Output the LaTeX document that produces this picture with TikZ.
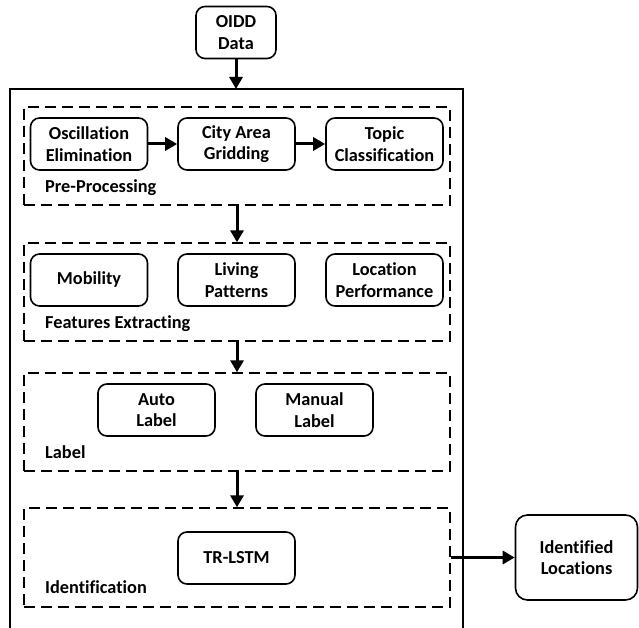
\documentclass[tikz,border=0pt]{standalone}
\usepackage{fontspec}
\setmainfont[Ligatures=NoCommon]{Carlito}
\usetikzlibrary{arrows.meta}

\begin{document}
\begin{tikzpicture}[x=1pt, y=-1pt,
    blk/.style={draw, rounded corners=9pt, line width=1.6pt, minimum width=117pt, minimum height=52pt, inner sep=0pt, align=center, font=\bfseries\fontsize{18.3}{21.7}\selectfont},
    grp/.style={draw, dash pattern=on 11pt off 6pt, line width=1.4pt, minimum width=426pt, minimum height=98pt, inner sep=0pt},
    flow/.style={-{Triangle[length=12pt, width=13pt]}, line width=3pt},
    lbl/.style={anchor=base west, inner sep=0pt, font=\bfseries\fontsize{18.3}{21.7}\selectfont}]
    \useasboundingbox (0,0) rectangle (639,628);

    \node[blk, minimum width=80pt] (oidd) at (236,32.5) {OIDD\\Data};
    \coordinate (top) at (236,89);
    \draw[line width=1.6pt] (10,628) -- (10,89) -- (463,89) -- (463,628);

    \node[grp] (pre) at (237,156) {};
    \node[grp] (feat) at (237,292) {};
    \node[grp] (lab) at (237,422) {};
    \node[grp, minimum height=99pt] (ident) at (237,557.5) {};

    \node[blk] (osc) at (89,144) {Oscillation\\Elimination};
    \node[blk] (city) at (236.5,144) {City Area\\Gridding};
    \node[blk] (topic) at (384.5,144) {Topic\\Classification};
    \node[lbl] at (45,193) {Pre-Processing};

    \node[blk] (mob) at (89,280) {Mobility};
    \node[blk] (liv) at (236.5,280) {Living\\Patterns};
    \node[blk] (loc) at (384.5,280) {Location\\Performance};
    \node[lbl] at (45,328) {Features Extracting};

    \node[blk] (auto) at (156.5,410) {Auto\\Label};
    \node[blk] (man) at (314.5,410) {Manual\\Label};
    \node[lbl] at (45,458) {Label};

    \node[blk] (lstm) at (236.5,558) {TR-LSTM};
    \node[lbl] at (45,593) {Identification};

    \node[blk, minimum width=122pt, minimum height=85pt, rounded corners=12pt] (out) at (576.5,557.5) {Identified\\Locations};

    \draw[flow] (oidd.south) -- (top);
    \draw[flow] (osc.east) -- (city.west);
    \draw[flow] (city.east) -- (topic.west);
    \draw[flow] (pre.south) -- (feat.north);
    \draw[flow] (feat.south) -- (lab.north);
    \draw[flow] (lab.south) -- (ident.north);
    \draw[flow] (ident.east) -- (out.west);
\end{tikzpicture}
\end{document}
